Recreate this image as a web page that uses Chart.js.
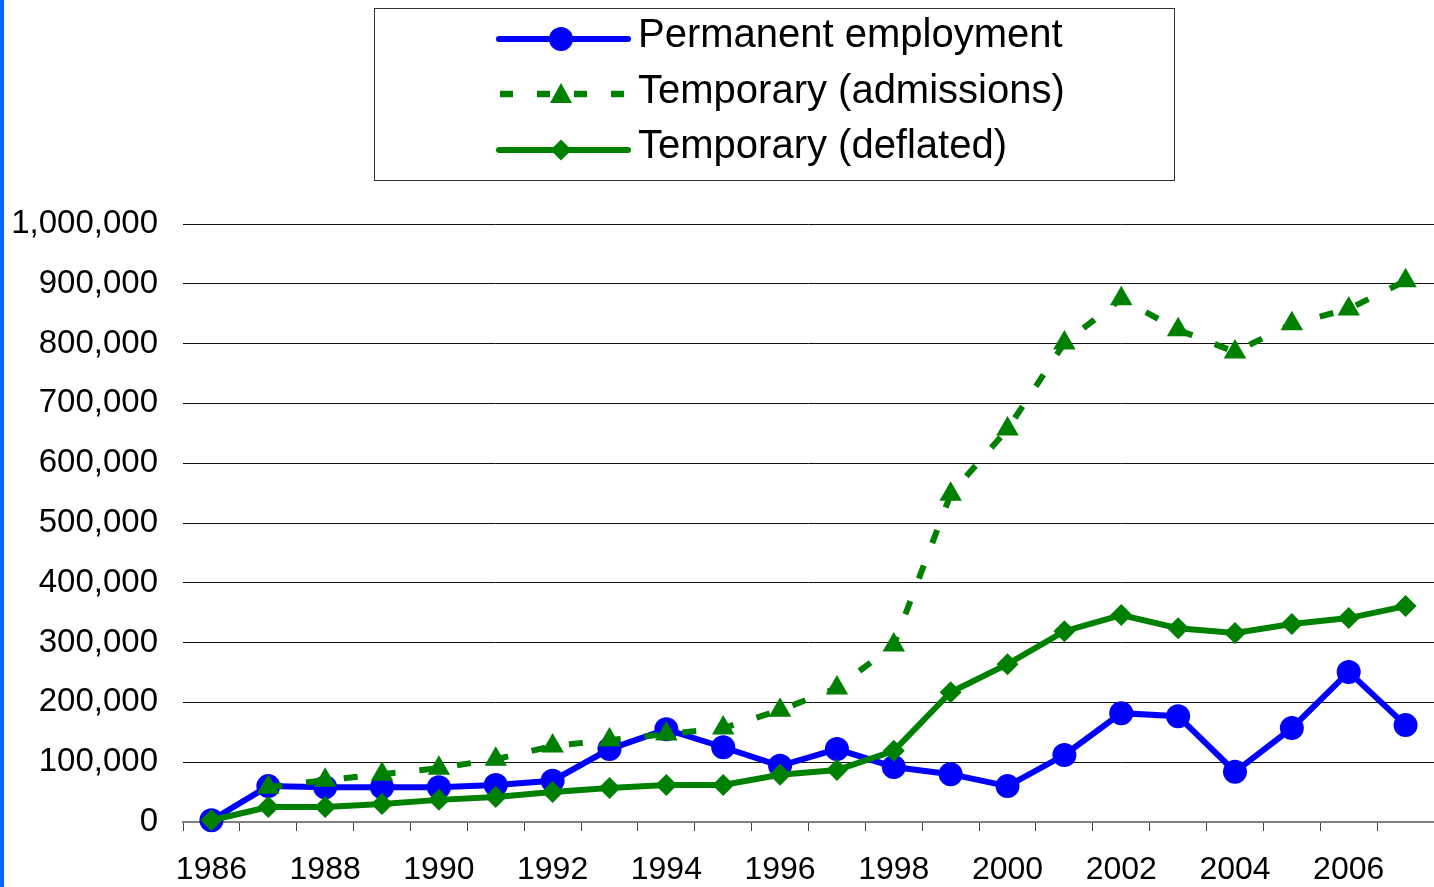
<!DOCTYPE html>
<html>
<head>
<meta charset="utf-8">
<script src="https://cdn.jsdelivr.net/npm/chart.js@4.4.0/dist/chart.umd.min.js"></script>
<style>
  html, body { margin: 0; padding: 0; background: #fff; overflow: hidden; }
  canvas { display: block; }
</style>
</head>
<body>
<canvas id="c" width="1434" height="887"></canvas>
<script>
const years = ['1986','1987','1988','1989','1990','1991','1992','1993','1994','1995','1996','1997','1998','1999','2000','2001','2002','2003','2004','2005','2006','2007'];
const permanent = [3000, 60000, 58000, 58000, 58000, 62000, 69000, 122000, 155000, 125000, 94000, 122000, 92000, 80000, 60000, 112000, 182000, 177000, 84000, 157000, 251000, 162000];
const admissions = [null, 58000, 70000, 80000, 90000, 105000, 127000, 137000, 147000, 157000, 187000, 224000, 296000, 548000, 657000, 801000, 875000, 823000, 786000, 833000, 858000, 905000];
const deflated = [3000, 25000, 25000, 30000, 37000, 42000, 50000, 57000, 62000, 62000, 79000, 87000, 119000, 217000, 264000, 319000, 346000, 324000, 316000, 331000, 341000, 361000];
const seriesNames = ['Permanent employment', 'Temporary (admissions)', 'Temporary (deflated)'];
const yTicks = [0, 100000, 200000, 300000, 400000, 500000, 600000, 700000, 800000, 900000, 1000000];

const BLUE = '#0000ff';
const GREEN = '#008000';
const FONT = '"Liberation Sans", Arial, sans-serif';

const decorPlugin = {
  id: 'decor',
  beforeDraw(chart) {
    const ctx = chart.ctx;
    ctx.save();
    ctx.fillStyle = '#0066ff';
    ctx.fillRect(0, 0, 4, chart.height);
    ctx.restore();
  },
  afterDraw(chart) {
    const ctx = chart.ctx;
    ctx.save();
    // legend box
    ctx.strokeStyle = '#333';
    ctx.lineWidth = 1;
    ctx.strokeRect(374.5, 8.5, 800, 172);
    const x0 = 499, x1 = 628, mx = 561;
    const rows = [39, 94, 150];
    const baselines = [47, 103, 158];
    ctx.lineCap = 'round';
    // row 1: blue line + circle
    ctx.strokeStyle = BLUE; ctx.lineWidth = 6;
    ctx.beginPath(); ctx.moveTo(x0, rows[0]); ctx.lineTo(x1, rows[0]); ctx.stroke();
    ctx.fillStyle = BLUE;
    ctx.beginPath(); ctx.arc(mx, rows[0], 12, 0, Math.PI * 2); ctx.fill();
    // row 2: dashed + triangle
    ctx.lineCap = 'butt';
    ctx.strokeStyle = GREEN; ctx.lineWidth = 6.5;
    ctx.setLineDash([13, 24]);
    ctx.beginPath(); ctx.moveTo(x0 + 1, rows[1]); ctx.lineTo(x1, rows[1]); ctx.stroke();
    ctx.setLineDash([]);
    ctx.fillStyle = GREEN;
    ctx.beginPath();
    ctx.moveTo(mx, rows[1] - 11); ctx.lineTo(mx + 11, rows[1] + 9); ctx.lineTo(mx - 11, rows[1] + 9);
    ctx.closePath(); ctx.fill();
    // row 3: green line + diamond
    ctx.lineCap = 'round';
    ctx.strokeStyle = GREEN; ctx.lineWidth = 6;
    ctx.beginPath(); ctx.moveTo(x0, rows[2]); ctx.lineTo(x1, rows[2]); ctx.stroke();
    ctx.beginPath();
    ctx.moveTo(mx, rows[2] - 10.5); ctx.lineTo(mx + 10.5, rows[2]); ctx.lineTo(mx, rows[2] + 10.5); ctx.lineTo(mx - 10.5, rows[2]);
    ctx.closePath(); ctx.fill();
    // texts
    ctx.fillStyle = '#000';
    ctx.font = '40px ' + FONT;
    ctx.textBaseline = 'alphabetic';
    ctx.textAlign = 'left';
    seriesNames.forEach((n, i) => ctx.fillText(n, 638, baselines[i]));
    ctx.restore();
  }
};

new Chart(document.getElementById('c'), {
  type: 'line',
  data: {
    labels: years,
    datasets: [
      {
        label: seriesNames[0], data: permanent, order: 3, clip: false,
        borderColor: BLUE, backgroundColor: BLUE, borderWidth: 6,
        pointStyle: 'circle', pointRadius: 12, pointBackgroundColor: BLUE, pointBorderWidth: 0,
        tension: 0
      },
      {
        label: seriesNames[1], data: admissions, order: 2, clip: false,
        borderColor: GREEN, backgroundColor: GREEN, borderWidth: 6,
        borderDash: [14, 24], borderCapStyle: 'butt',
        pointStyle: 'triangle', pointRadius: 13, pointBackgroundColor: GREEN, pointBorderWidth: 0,
        tension: 0, spanGaps: false
      },
      {
        label: seriesNames[2], data: deflated, order: 1, clip: false,
        borderColor: GREEN, backgroundColor: GREEN, borderWidth: 6,
        pointStyle: 'rectRot', pointRadius: 11, pointBackgroundColor: GREEN, pointBorderWidth: 0,
        tension: 0
      }
    ]
  },
  options: {
    responsive: false,
    animation: false,
    events: [],
    layout: { autoPadding: false, padding: { top: 224, left: 0, right: -3, bottom: 0 } },
    plugins: { legend: { display: false }, tooltip: { enabled: false }, title: { display: false } },
    scales: {
      x: {
        type: 'category',
        offset: true,
        grid: { display: true, drawOnChartArea: false, drawTicks: true, tickLength: 9, color: '#444', offset: true, lineWidth: 1 },
        border: { display: true, color: '#808080', width: 2 },
        ticks: {
          autoSkip: false, maxRotation: 0, minRotation: 0,
          color: '#000', font: { size: 32, family: FONT }, padding: 20,
          callback: (v, i) => (i % 2 === 0 ? years[i] : '')
        },
        afterFit: (s) => { s.height = 65; s.paddingLeft = 0; s.paddingRight = 0; }
      },
      y: {
        min: yTicks[0], max: yTicks[yTicks.length - 1],
        grid: { color: '#111', lineWidth: 1, drawTicks: false },
        border: { display: false },
        ticks: {
          stepSize: 100000, color: '#000', font: { size: 33, family: FONT }, padding: 25,
          callback: (v) => Number(v).toLocaleString('en-US')
        },
        afterFit: (s) => { s.width = 183; s.paddingTop = 0; s.paddingBottom = 0; }
      }
    }
  },
  plugins: [decorPlugin]
});
</script>
</body>
</html>
